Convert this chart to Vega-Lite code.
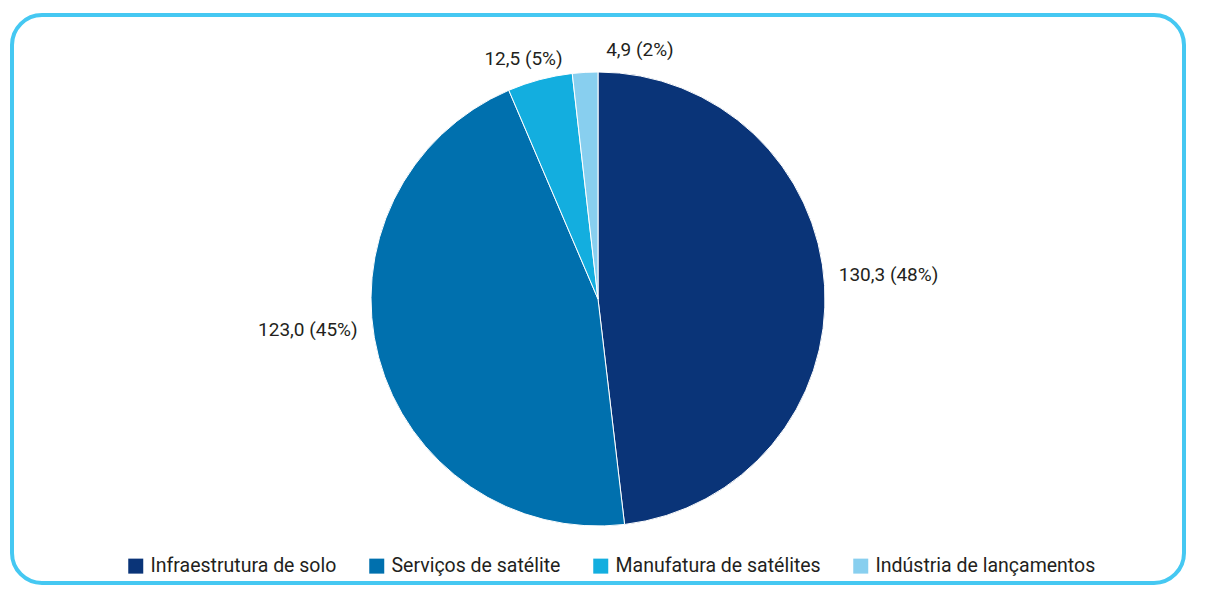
{
  "$schema": "https://vega.github.io/schema/vega-lite/v6.json",
  "width": 1172,
  "height": 568,
  "autosize": {"type": "none"},
  "padding": {"left": 12, "top": 15, "right": 27, "bottom": 13},
  "background": "white",
  "view": {"stroke": "#45C8F2", "strokeWidth": 4, "cornerRadius": 30, "fill": "white"},
  "config": {
    "view": {"stroke": "#45C8F2", "strokeWidth": 4, "cornerRadius": 30},
    "font": "Roboto",
    "text": {"font": "Roboto", "fontSize": 19, "fill": "#231F20"}
  },
  "data": {
    "values": [
      {"segmento": "Infraestrutura de solo", "valor": 130.3, "rotulo": "130,3 (48%)"},
      {"segmento": "Serviços de satélite", "valor": 123.0, "rotulo": "123,0 (45%)"},
      {"segmento": "Manufatura de satélites", "valor": 12.5, "rotulo": "12,5 (5%)"},
      {"segmento": "Indústria de lançamentos", "valor": 4.9, "rotulo": "4,9 (2%)"}
    ]
  },
  "encoding": {
    "theta": {"field": "valor", "type": "quantitative", "stack": true},
    "order": {"field": "valor", "sort": "descending"}
  },
  "layer": [
    {
      "mark": {"type": "arc", "outerRadius": 227, "stroke": "white", "strokeWidth": 1},
      "encoding": {
        "color": {
          "field": "segmento",
          "type": "nominal",
          "sort": ["Infraestrutura de solo", "Serviços de satélite", "Manufatura de satélites", "Indústria de lançamentos"],
          "scale": {
            "domain": ["Infraestrutura de solo", "Serviços de satélite", "Manufatura de satélites", "Indústria de lançamentos"],
            "range": ["#0A3478", "#0070AE", "#13AEDF", "#88CFEF"]
          },
          "legend": {
            "orient": "none",
            "legendX": 114,
            "legendY": 541,
            "direction": "horizontal",
            "columns": 4,
            "title": null,
            "symbolType": "square",
            "symbolSize": 225,
            "symbolStrokeWidth": 0,
            "symbolOpacity": 1,
            "labelFont": "Roboto",
            "labelFontSize": 19.5,
            "labelColor": "#231F20",
            "labelOffset": 5,
            "columnPadding": 30,
            "labelLimit": 400
          }
        }
      }
    },
    {
      "mark": {"type": "text", "radius": 291, "dy": -7},
      "encoding": {
        "detail": {"field": "segmento"},
        "text": {"condition": {"test": "datum.segmento === 'Infraestrutura de solo'", "field": "rotulo"}, "value": ""}
      }
    },
    {
      "mark": {"type": "text", "radius": 291, "dx": -9, "dy": -44},
      "encoding": {
        "detail": {"field": "segmento"},
        "text": {"condition": {"test": "datum.segmento === 'Serviços de satélite'", "field": "rotulo"}, "value": ""}
      }
    },
    {
      "mark": {"type": "text", "radius": 248, "dx": -11, "dy": 0},
      "encoding": {
        "detail": {"field": "segmento"},
        "text": {"condition": {"test": "datum.segmento === 'Manufatura de satélites'", "field": "rotulo"}, "value": ""}
      }
    },
    {
      "mark": {"type": "text", "radius": 248, "dx": 56, "dy": -1},
      "encoding": {
        "detail": {"field": "segmento"},
        "text": {"condition": {"test": "datum.segmento === 'Indústria de lançamentos'", "field": "rotulo"}, "value": ""}
      }
    }
  ]
}
